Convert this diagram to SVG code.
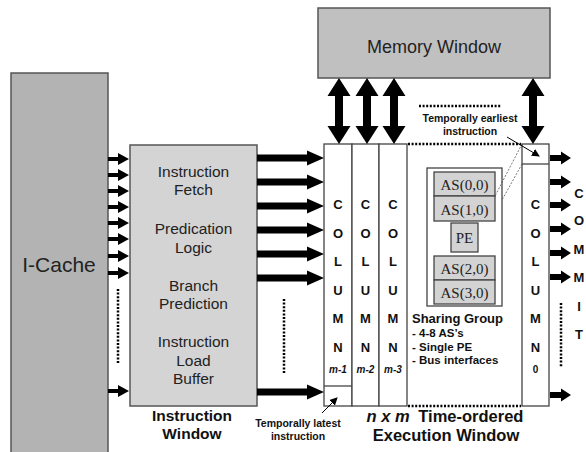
<svg xmlns="http://www.w3.org/2000/svg" xmlns:xlink="http://www.w3.org/1999/xlink" width="586" height="452" viewBox="0 0 586 452">
<style>
.box{stroke:#555;stroke-width:1.5}
.col{fill:#fff;stroke:#444;stroke-width:1.3}
.reg{font-family:"Liberation Sans",Arial,sans-serif;fill:#222;text-anchor:middle}
.b{font-family:"Liberation Sans",Arial,sans-serif;font-weight:bold;fill:#111;text-anchor:middle}
.lt{font-size:13px}
.sm{font-size:10.5px}
.ser{font-family:"Liberation Serif","Times New Roman",serif;font-size:15px;fill:#222;text-anchor:middle}
.as{fill:#d3d3d3;stroke:#444;stroke-width:1.3}
.dot{stroke:#000;stroke-width:2.5;stroke-dasharray:2 1.6;fill:none}
.thin{stroke:#555;stroke-width:0.8;stroke-dasharray:2 1.5;fill:none}
.arr{fill:#000}
</style>
<defs>
<polygon id="big" class="arr" points="-67,-3.5 -17,-3.5 -17,-7.5 0,0 -17,7.5 -17,3.5 -67,3.5"/>
<polygon id="small" class="arr" points="-21,-2 -11,-2 -11,-6 0,0 -11,6 -11,2 -21,2"/>
<polygon id="out" class="arr" points="-21,-3 -10,-3 -10,-6.5 0,0 -10,6.5 -10,3 -21,3"/>
<polygon id="dbl" class="arr" points="0,0 11.5,18 4,18 4,48 11.5,48 0,66 -11.5,48 -4,48 -4,18 -11.5,18"/>
<marker id="ah" markerWidth="8" markerHeight="8" refX="7" refY="4" orient="auto" markerUnits="userSpaceOnUse">
<path d="M0,0 L8,4 L0,8 z" fill="#000"/>
</marker>
</defs>

<g id="icache">
<rect class="box" x="11" y="73" width="97" height="390" fill="#b3b3b3"/>
<text class="reg" x="59" y="272" style="font-size:21px">I-Cache</text>
</g>

<g id="instruction-window">
<rect class="box" x="130" y="145" width="127" height="261" fill="#d4d4d4"/>
<g class="reg" style="font-size:15.5px">
<text x="193.5" y="177">Instruction</text>
<text x="193.5" y="195">Fetch</text>
<text x="193.5" y="234">Predication</text>
<text x="193.5" y="253">Logic</text>
<text x="193.5" y="291">Branch</text>
<text x="193.5" y="309">Prediction</text>
<text x="193.5" y="347">Instruction</text>
<text x="193.5" y="366">Load</text>
<text x="193.5" y="384">Buffer</text>
</g>
<text class="b" x="192" y="421" style="font-size:15.5px">Instruction</text>
<text class="b" x="192" y="439" style="font-size:15.5px">Window</text>
</g>

<g id="memory-window">
<rect class="box" x="318" y="8" width="232" height="70" fill="#c0c0c0"/>
<text class="reg" x="434" y="53" style="font-size:18px">Memory Window</text>
</g>

<g id="execution-window">
<rect class="col" x="324" y="144" width="28" height="262"/>
<rect class="col" x="352" y="144" width="27" height="262"/>
<rect class="col" x="379" y="144" width="28" height="262"/>
<rect class="col" x="522" y="144" width="27" height="262"/>
<line x1="324" y1="386" x2="352" y2="386" stroke="#444" stroke-width="1.3"/>
<line x1="522" y1="164" x2="549" y2="164" stroke="#444" stroke-width="1.3"/>
<line class="dot" x1="408" y1="144" x2="521" y2="144"/>
<line class="dot" x1="408" y1="406" x2="521" y2="406"/>
<g class="b lt">
<text x="338" y="209">C</text><text x="338" y="238">O</text><text x="338" y="266">L</text><text x="338" y="295">U</text><text x="338" y="323">M</text><text x="338" y="352">N</text>
<text x="365.5" y="209">C</text><text x="365.5" y="238">O</text><text x="365.5" y="266">L</text><text x="365.5" y="295">U</text><text x="365.5" y="323">M</text><text x="365.5" y="352">N</text>
<text x="393" y="209">C</text><text x="393" y="238">O</text><text x="393" y="266">L</text><text x="393" y="295">U</text><text x="393" y="323">M</text><text x="393" y="352">N</text>
<text x="535.5" y="209">C</text><text x="535.5" y="238">O</text><text x="535.5" y="266">L</text><text x="535.5" y="295">U</text><text x="535.5" y="323">M</text><text x="535.5" y="352">N</text>
</g>
<g class="b" style="font-size:10px;font-style:italic">
<text x="338" y="373">m-1</text>
<text x="365.5" y="373">m-2</text>
<text x="393" y="373">m-3</text>
</g>
<text class="b" x="535.5" y="373" style="font-size:10px">0</text>
<text class="b" x="445" y="422" style="font-size:16.5px"><tspan font-style="italic">n x m</tspan><tspan dx="4"> Time-ordered</tspan></text>
<text class="b" x="446" y="441" style="font-size:16.5px">Execution Window</text>
</g>

<g id="sharing-group">
<rect x="427" y="168" width="75" height="138" fill="#fff" stroke="#444" stroke-width="1.3"/>
<rect class="as" x="434" y="172" width="61" height="24"/>
<rect class="as" x="434" y="196" width="61" height="25"/>
<rect class="as" x="451" y="223" width="27" height="29"/>
<rect class="as" x="434" y="256" width="61" height="24"/>
<rect class="as" x="434" y="280" width="61" height="24"/>
<text class="ser" x="464.5" y="190">AS(0,0)</text>
<text class="ser" x="464.5" y="215">AS(1,0)</text>
<text class="ser" x="464.5" y="243">PE</text>
<text class="ser" x="464.5" y="274">AS(2,0)</text>
<text class="ser" x="464.5" y="298">AS(3,0)</text>
<g class="b" style="text-anchor:start">
<text x="412" y="323" style="font-size:13px">Sharing Group</text>
<text x="412" y="337" style="font-size:11.5px">- 4-8 AS’s</text>
<text x="412" y="351" style="font-size:11.5px">- Single PE</text>
<text x="412" y="364" style="font-size:11.5px">- Bus interfaces</text>
</g>
</g>

<g id="commit">
<g class="b lt">
<text x="579" y="198">C</text><text x="579" y="225">O</text><text x="579" y="254">M</text><text x="579" y="282">M</text><text x="579" y="311">I</text><text x="579" y="339">T</text>
</g>
</g>

<g id="annotations">
<text class="b sm" x="470" y="122">Temporally earliest</text>
<text class="b sm" x="470" y="135">instruction</text>
<text class="b sm" x="298" y="427">Temporally latest</text>
<text class="b sm" x="298" y="440">instruction</text>
</g>

<g id="connectors">
<use xlink:href="#small" x="129" y="159"/>
<use xlink:href="#small" x="129" y="175"/>
<use xlink:href="#small" x="129" y="191"/>
<use xlink:href="#small" x="129" y="207"/>
<use xlink:href="#small" x="129" y="223"/>
<use xlink:href="#small" x="129" y="239"/>
<use xlink:href="#small" x="129" y="256"/>
<use xlink:href="#small" x="129" y="273"/>
<use xlink:href="#small" x="129" y="391"/>
<line class="dot" x1="118" y1="289" x2="118" y2="363"/>

<use xlink:href="#big" x="324" y="158"/>
<use xlink:href="#big" x="324" y="182"/>
<use xlink:href="#big" x="324" y="206"/>
<use xlink:href="#big" x="324" y="230"/>
<use xlink:href="#big" x="324" y="254"/>
<use xlink:href="#big" x="324" y="278"/>
<use xlink:href="#big" x="324" y="392"/>
<line class="dot" x1="284" y1="299" x2="284" y2="373"/>

<use xlink:href="#dbl" x="339" y="78"/>
<use xlink:href="#dbl" x="367" y="78"/>
<use xlink:href="#dbl" x="394" y="78"/>
<use xlink:href="#dbl" x="533" y="78"/>
<line class="dot" x1="419" y1="106" x2="501" y2="106"/>

<use xlink:href="#out" x="571" y="158"/>
<use xlink:href="#out" x="571" y="182"/>
<use xlink:href="#out" x="571" y="205"/>
<use xlink:href="#out" x="571" y="229"/>
<use xlink:href="#out" x="571" y="253"/>
<use xlink:href="#out" x="571" y="277"/>
<use xlink:href="#out" x="571" y="395"/>
<line class="dot" x1="561" y1="303" x2="561" y2="367"/>

<line class="thin" x1="522" y1="144" x2="495" y2="196"/>
<line class="thin" x1="522" y1="164" x2="502" y2="200"/>
<line x1="507" y1="137" x2="539" y2="156" stroke="#000" stroke-width="1" marker-end="url(#ah)"/>
<line x1="322" y1="413" x2="337" y2="398" stroke="#000" stroke-width="1" marker-end="url(#ah)"/>
</g>
</svg>
